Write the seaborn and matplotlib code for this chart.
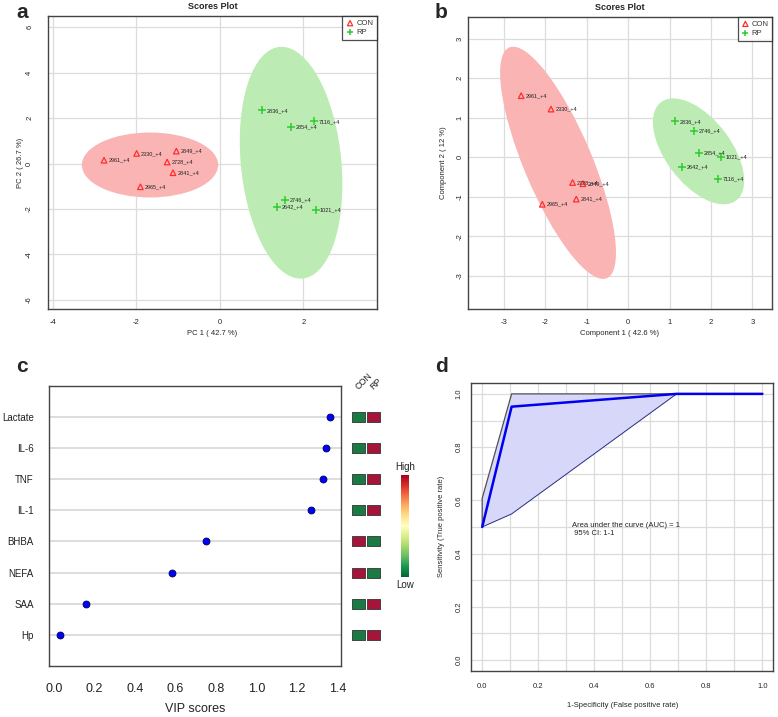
import numpy as np
import matplotlib
matplotlib.use("Agg")
import matplotlib.pyplot as plt
from matplotlib.patches import Ellipse
from matplotlib.cm import ScalarMappable
from matplotlib.colors import Normalize
import seaborn as sns

sns.set_style("white")
plt.rcParams['font.family'] = ['Liberation Sans', 'DejaVu Sans']

# ---------------- data ----------------
# Panel a: PCA scores
pca_con_ids = ["2961", "2330", "2849", "2728", "2841", "2965"]
pca_con_x = [-2.77, -1.99, -1.04, -1.26, -1.12, -1.90]
pca_con_y = [0.15, 0.45, 0.55, 0.07, -0.40, -1.02]
pca_rp_ids = ["2836", "7116", "2854", "2746", "2642", "1021"]
pca_rp_x = [1.01, 2.25, 1.70, 1.57, 1.37, 2.29]
pca_rp_y = [2.34, 1.86, 1.61, -1.59, -1.89, -2.05]
pca_con_ellipse = (-1.67, -0.06, 3.26, 2.86, 0.0)      # cx, cy, width, height, angle
pca_rp_ellipse = (1.705, 0.04, 10.22, 2.41, -87.3)
pca_xticks = [-4, -2, 0, 2]
pca_yticks = [-6, -4, -2, 0, 2, 4, 6]

# Panel b: PLS-DA scores
pls_con_ids = ["2961", "2330", "2728", "2849", "2841", "2965"]
pls_con_x = [-2.58, -1.86, -1.34, -1.09, -1.25, -2.07]
pls_con_y = [1.56, 1.22, -0.64, -0.67, -1.06, -1.19]
pls_rp_ids = ["2836", "2746", "2854", "1021", "2642", "7116"]
pls_rp_x = [1.13, 1.59, 1.72, 2.25, 1.31, 2.18]
pls_rp_y = [0.91, 0.66, 0.11, 0.01, -0.25, -0.55]
pls_con_ellipse = (-1.69, -0.14, 6.30, 1.65, -68.2)
pls_rp_ellipse = (1.70, 0.15, 3.08, 1.60, -54.9)
pls_xticks = [-3, -2, -1, 0, 1, 2, 3]
pls_yticks = [-3, -2, -1, 0, 1, 2, 3]

# Panel c: VIP scores
vip_features = ["Lactate", "IL-6", "TNF", "IL-1", "BHBA", "NEFA", "SAA", "Hp"]
vip_scores = [1.363, 1.346, 1.331, 1.272, 0.752, 0.581, 0.155, 0.027]
vip_con_level = ["low", "low", "low", "low", "high", "high", "low", "low"]
vip_rp_level = ["high", "high", "high", "high", "low", "low", "high", "high"]
vip_groups = ["CON", "RP"]
vip_xticks = [0.0, 0.2, 0.4, 0.6, 0.8, 1.0, 1.2, 1.4]

# Panel d: ROC
roc_fpr = [0.0, 0.105, 0.694, 1.0]
roc_tpr = [0.5, 0.952, 1.0, 1.0]
ci_upper_fpr = [0.0, 0.0, 0.105, 1.0]
ci_upper_tpr = [0.5, 0.608, 1.0, 1.0]
ci_lower_fpr = [0.0, 0.105, 0.694, 1.0]
ci_lower_tpr = [0.5, 0.549, 1.0, 1.0]
auc_text = "Area under the curve (AUC) = 1\n 95% CI: 1-1"

# ---------------- styling ----------------
RED = "#FF2E2E"
GREEN = "#2ECC2E"
RED_FILL = "#FAB4B4"
GREEN_FILL = "#BCEBB3"
FRAME = "#444444"
GRID = "#DCDCDC"

W, H = 778, 717
fig = plt.figure(figsize=(W / 100, H / 100), dpi=100)


def px_axes(l, t, r, b, **kw):
    return fig.add_axes([l / W, 1 - b / H, (r - l) / W, (b - t) / H], **kw)


def style_frame(ax, lw=1.0):
    for s in ax.spines.values():
        s.set_visible(True)
        s.set_color(FRAME)
        s.set_linewidth(lw)


def score_panel(ax, cx, cy, cids, rx, ry, rids, e_con, e_rp, xt, yt,
                xlim, ylim, xlabel, ylabel, ypad, ylabpad):
    for (ecx, ecy, ew, eh, ea), fc in ((e_con, RED_FILL), (e_rp, GREEN_FILL)):
        ax.add_patch(Ellipse((ecx, ecy), ew, eh, angle=ea, facecolor=fc,
                             edgecolor='none', zorder=1))
    sns.scatterplot(x=cx, y=cy, marker='^', s=16, facecolors='none',
                    edgecolor=RED, linewidth=0.9, ax=ax, zorder=3, label='CON')
    sns.scatterplot(x=rx, y=ry, marker='+', s=26, color=GREEN,
                    linewidth=1.1, ax=ax, zorder=3, label='RP')
    for x, y, t in zip(cx, cy, cids):
        ax.annotate(t + "_+4", (x, y), xytext=(3.2, 0), textcoords='offset points',
                    fontsize=4, va='center', ha='left', color='#222222', zorder=4)
    for x, y, t in zip(rx, ry, rids):
        ax.annotate(t + "_+4", (x, y), xytext=(3.2, 0), textcoords='offset points',
                    fontsize=4, va='center', ha='left', color='#222222', zorder=4)
    ax.set_xlim(*xlim)
    ax.set_ylim(*ylim)
    ax.set_xticks(xt)
    ax.set_yticks(yt)
    ax.set_xticklabels([str(v) for v in xt], fontsize=5.5)
    ax.set_yticklabels([str(v) for v in yt], fontsize=5.5, rotation=90, va='center')
    ax.tick_params(axis='y', length=0, pad=ypad)
    ax.tick_params(axis='x', length=0, pad=7)
    ax.grid(True, color=GRID, lw=0.9)
    ax.set_axisbelow(True)
    ax.set_xlabel(xlabel, fontsize=5.5, labelpad=3)
    ax.set_ylabel(ylabel, fontsize=5.5, labelpad=ylabpad)
    ax.set_title("Scores Plot", fontsize=6.5, fontweight='bold', pad=5)
    style_frame(ax)
    leg = ax.legend(loc='upper right', fontsize=5.5, frameon=True, fancybox=False,
                    edgecolor='#222222', borderaxespad=0, handletextpad=0.3,
                    borderpad=0.5, handlelength=1.0, labelspacing=0.2,
                    labelcolor='#333333')
    leg.get_frame().set_linewidth(0.9)
    for h in leg.legend_handles:
        h.set_sizes([14])


# ---- Panel a ----
ax_a = px_axes(48, 16, 377, 309)
score_panel(ax_a, pca_con_x, pca_con_y, pca_con_ids, pca_rp_x, pca_rp_y, pca_rp_ids,
            pca_con_ellipse, pca_rp_ellipse, pca_xticks, pca_yticks,
            (-4.11, 3.76), (-6.4, 6.5), "PC 1 ( 42.7 %)", "PC 2 ( 26.7 %)", 10.7, 1.5)

# ---- Panel b ----
ax_b = px_axes(467.7, 16.7, 772.3, 309.3)
score_panel(ax_b, pls_con_x, pls_con_y, pls_con_ids, pls_rp_x, pls_rp_y, pls_rp_ids,
            pls_con_ellipse, pls_rp_ellipse, pls_xticks, pls_yticks,
            (-3.87, 3.48), (-3.85, 3.56), "Component 1 ( 42.6 %)",
            "Component 2 ( 12 %)", 3, 7)

# ---- Panel c ----
ax_c = px_axes(49, 385.7, 340.7, 666)
ypos = np.arange(len(vip_features))[::-1] + 1
for yv in ypos:
    ax_c.axhline(yv, color='#DADADA', lw=1.3, zorder=1)
sns.scatterplot(x=vip_scores, y=ypos, color='#0000FF', edgecolor='#00006A',
                linewidth=0.7, s=24, ax=ax_c, zorder=3)
ax_c.set_xlim(-0.026, 1.417)
ax_c.set_ylim(0.0, 9.0)
ax_c.set_yticks(ypos)
ax_c.set_yticklabels(vip_features, fontsize=7, color='#222222')
ax_c.set_xticks(vip_xticks)
ax_c.set_xticklabels([f"{v:.1f}" for v in vip_xticks], fontsize=9, color='#222222')
ax_c.tick_params(axis='y', length=0, pad=11)
ax_c.tick_params(axis='x', length=4, width=0.8, color=FRAME, direction='out', pad=8)
ax_c.set_xlabel("VIP scores", fontsize=9, labelpad=6, color='#222222')
style_frame(ax_c)

# heatmap column next to VIP plot
ax_h = px_axes(351.5, 385.7, 380.5, 666)
heat_x, heat_y, heat_lvl = [], [], []
for i, (cl, rl) in enumerate(zip(vip_con_level, vip_rp_level)):
    heat_x += [0, 1]
    heat_y += [ypos[i], ypos[i]]
    heat_lvl += [cl, rl]
rect_marker = [(-0.635, -0.5), (0.635, -0.5), (0.635, 0.5), (-0.635, 0.5), (-0.635, -0.5)]
sns.scatterplot(x=heat_x, y=heat_y, hue=heat_lvl,
                palette={"low": "#1B7A43", "high": "#A6143A"},
                marker=rect_marker, s=84, edgecolor='#333333', linewidth=0.6,
                legend=False, ax=ax_h)
ax_h.set_xlim(-0.5, 1.5)
ax_h.set_ylim(0.0, 9.0)
ax_h.axis('off')
for i, g in enumerate(vip_groups):
    ax_h.annotate(g, (i, 1.0), xycoords=('data', 'axes fraction'),
                  xytext=(1, -4), textcoords='offset points', rotation=45,
                  rotation_mode='anchor', ha='left', va='bottom', fontsize=6.5,
                  color='#222222')

# colour key
cax = px_axes(400.7, 475, 409.3, 576.7)
cb = fig.colorbar(ScalarMappable(norm=Normalize(0, 1), cmap='RdYlGn_r'), cax=cax)
cb.set_ticks([])
cb.outline.set_visible(False)
fig.text(405 / W, 1 - 466.7 / H, "High", ha='center', va='center', fontsize=7, color='#222222')
fig.text(405 / W, 1 - 585.5 / H, "Low", ha='center', va='center', fontsize=7, color='#222222')

# ---- Panel d ----
ax_d = px_axes(471, 382.7, 773.3, 671)
ax_d.fill(np.r_[ci_upper_fpr, ci_lower_fpr[::-1]], np.r_[ci_upper_tpr, ci_lower_tpr[::-1]],
          facecolor='#D7D7FA', edgecolor='none', zorder=1)
sns.lineplot(x=ci_upper_fpr, y=ci_upper_tpr, sort=False, estimator=None,
             color='#505050', lw=0.9, ax=ax_d, zorder=2)
sns.lineplot(x=ci_lower_fpr, y=ci_lower_tpr, sort=False, estimator=None,
             color='#2A2A80', lw=0.7, ax=ax_d, zorder=2)
sns.lineplot(x=roc_fpr, y=roc_tpr, sort=False, estimator=None,
             color='#0000EE', lw=1.8, ax=ax_d, zorder=3)
ax_d.set_xlim(-0.04, 1.039)
ax_d.set_ylim(-0.041, 1.042)
major = np.round(np.arange(0, 1.01, 0.2), 1)
minor = np.round(np.arange(0, 1.01, 0.1), 1)
ax_d.set_xticks(major)
ax_d.set_yticks(major)
ax_d.set_xticks(minor, minor=True)
ax_d.set_yticks(minor, minor=True)
ax_d.set_xticklabels([f"{v:.1f}" for v in major], fontsize=5.5)
ax_d.set_yticklabels([f"{v:.1f}" for v in major], fontsize=5.5, rotation=90, va='center')
ax_d.tick_params(axis='both', which='major', length=4, width=0.7, color=FRAME,
                 direction='out', pad=5)
ax_d.tick_params(axis='y', which='major', pad=2)
ax_d.tick_params(axis='both', which='minor', length=0)
ax_d.grid(True, which='both', color=GRID, lw=0.9)
ax_d.set_axisbelow(True)
ax_d.text(0.32, 0.49, auc_text, fontsize=5.5, ha='left', va='center', color='#222222')
ax_d.set_xlabel("1-Specificity (False positive rate)", fontsize=5.5, labelpad=8)
ax_d.set_ylabel("Sensitivity (True positive rate)", fontsize=5.5, labelpad=8)
style_frame(ax_d)

# panel letters
for lbl, x, y in (("a", 22, 13), ("b", 441, 12), ("c", 22, 367), ("d", 441, 366)):
    fig.text(x / W, 1 - y / H, lbl, fontsize=15, fontweight='bold', ha='center', va='center')

fig.savefig("out.png", dpi=100)
